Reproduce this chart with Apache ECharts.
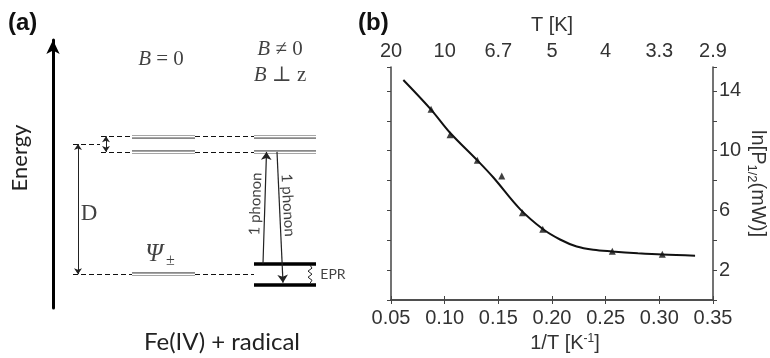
<!DOCTYPE html>
<html>
<head>
<meta charset="utf-8">
<script src="https://cdn.jsdelivr.net/npm/echarts@6/dist/echarts.min.js"></script>
<style>
  html, body { margin: 0; padding: 0; background: #fff; }
  #chart { width: 770px; height: 358px; }
</style>
</head>
<body>
<div id="chart"></div>
<script>
  // (b) measured points: 1/T [K^-1] vs ln P1/2
  const invT = [0.0873, 0.105, 0.1304, 0.1532, 0.1724, 0.1914, 0.2562, 0.3028];
  const lnP = [12.77, 11.07, 9.35, 8.30, 5.85, 4.73, 3.27, 3.06];
  // fitted curve
  const fitX = [0.0615, 0.0873, 0.105, 0.1304, 0.1454, 0.170, 0.1914, 0.2075, 0.223, 0.2386, 0.256, 0.28, 0.3028, 0.3333];
  const fitY = [14.73, 12.75, 11.2, 9.35, 8.2, 6.1, 4.75, 4.05, 3.58, 3.36, 3.25, 3.13, 3.04, 2.97];
  const yLabels = [2, 6, 10, 14];

  // (a) energy levels (units of the diagram's energy axis, D = 10)
  const D = 10;
  const upperLevels = [9.4, 10.6];
  const groundLevel = 0;
  const groundSplit = [-0.8, 0.8];

  const sans = 'Liberation Sans, Arial, sans-serif';
  const hum = 'Lato, Open Sans, sans-serif';
  const serif = 'Liberation Serif, DejaVu Serif, serif';

  // x layout of the diagram columns
  const colB0 = [79, 142];
  const colB = [201, 263];

  const seg = (x1, y1, x2, y2) => ({coords: [[x1, y1], [x2, y2]]});

  let dashSegs = [];
  upperLevels.forEach(E => {
    dashSegs.push(seg(48, E, colB0[0], E));
    dashSegs.push(seg(colB0[1], E, colB[0], E));
  });
  dashSegs.push(seg(20, groundLevel, colB0[0], groundLevel));
  dashSegs.push(seg(colB0[1], groundLevel, colB[0], groundLevel));
  dashSegs.push(seg(20, D, 47, D));

  let doubleSegs = [];
  upperLevels.concat([groundLevel]).forEach(E => doubleSegs.push(seg(colB0[0], E, colB0[1], E)));
  upperLevels.forEach(E => doubleSegs.push(seg(colB[0], E, colB[1], E)));

  const thickSegs = groundSplit.map(E => seg(colB[0], E, colB[1], E));

  const twoHeadSegs = [
    seg(25, groundLevel, 25, D),
    seg(53, upperLevels[0], 53, upperLevels[1])
  ];
  const phononSegs = [
    seg(210, groundSplit[1], 213.5, upperLevels[0]),
    seg(224, upperLevels[0], 230, -0.65)
  ];
  // small wavy EPR arrow
  let zig = [];
  for (let i = 0; i <= 6; i++) {
    zig.push([257 + (i % 2 ? 2 : -2) * (i > 0 && i < 6 ? 1 : 0), -0.7 + i * 1.4 / 6]);
  }

  const notes = [
    {value: [108, 16.5], text: '{it|B}{rm| = 0}'},
    {value: [227, 17.3], text: '{it|B}{rm| ≠ 0}'},
    {value: [227, 15.3], text: '{it|B}{rm| ⊥ z}'},
    {value: [107, 1.5], text: '{psi|Ψ}{sub|±}'},
    {value: [36, 4.6], text: '{d|D}'},
    {value: [280, 0], text: '{epr|EPR}'},
    {value: [202.5, 5.4], text: '{ph|1 phonon}', rotate: 88},
    {value: [235, 5.3], text: '{ph|1 phonon}', rotate: -87}
  ];

  const axisCol = '#444';
  const chart = echarts.init(document.getElementById('chart'));
  const option = {
    animation: false,
    backgroundColor: '#fff',
    textStyle: {fontFamily: sans, color: '#333'},
    graphic: [
      {type: 'text', left: 8, top: 11, style: {text: '(a)', font: 'bold 24px ' + sans, fill: '#111'}},
      {type: 'text', left: 358, top: 11, style: {text: '(b)', font: 'bold 24px ' + sans, fill: '#111'}},
      {type: 'text', x: 20, y: 158, rotation: Math.PI / 2,
        style: {text: 'Energy', font: '22px ' + hum, fill: '#222', align: 'center', verticalAlign: 'middle'}},
      {type: 'text', x: 222, y: 342,
        style: {text: 'Fe(IV) + radical', font: '24px ' + hum, fill: '#222', align: 'center', verticalAlign: 'middle'}}
    ],
    grid: [
      {left: 391, right: 57, top: 67, bottom: 53},
      {left: 53, top: 40, width: 307, bottom: 50}
    ],
    xAxis: [
      {
        gridIndex: 0, type: 'value', position: 'bottom',
        min: 0.05, max: 0.35, interval: 0.05,
        axisLine: {lineStyle: {color: axisCol, width: 1.5}},
        axisTick: {length: 4, lineStyle: {color: axisCol}},
        axisLabel: {fontSize: 20, color: '#333', margin: 8, showMaxLabel: true, formatter: v => v.toFixed(2)},
        splitLine: {show: false},
        name: '{a|1/T [K}{sup|-1}{a|]}', nameLocation: 'middle', nameGap: 33,
        nameTextStyle: {padding: [0, 0, 0, 26], rich: {
          a: {fontSize: 20, color: '#333', fontFamily: sans},
          sup: {fontSize: 12, color: '#333', fontFamily: sans, verticalAlign: 'top'}
        }}
      },
      {
        gridIndex: 0, type: 'value', position: 'top',
        min: 0.05, max: 0.35, interval: 0.05,
        axisLine: {lineStyle: {color: axisCol, width: 1.5}},
        axisTick: {length: 4, lineStyle: {color: axisCol}},
        axisLabel: {fontSize: 20, color: '#333', margin: 6, showMaxLabel: true,
          formatter: v => String(Number((1 / v).toFixed(1)))},
        splitLine: {show: false},
        name: 'T [K]', nameLocation: 'middle', nameGap: 32,
        nameTextStyle: {fontSize: 20, color: '#333'}
      },
      {gridIndex: 1, type: 'value', min: 0, max: 307, show: false}
    ],
    yAxis: [
      {
        gridIndex: 0, type: 'value', position: 'left',
        min: 0, max: 15.6, interval: 2,
        axisLine: {show: true, lineStyle: {color: axisCol, width: 1.5}},
        axisTick: {show: true, length: 4, lineStyle: {color: axisCol}},
        axisLabel: {show: false},
        splitLine: {show: false}
      },
      {
        gridIndex: 0, type: 'value', position: 'right',
        min: 0, max: 15.6, interval: 2,
        axisLine: {show: true, lineStyle: {color: axisCol, width: 1.5}},
        axisTick: {show: true, length: 4, lineStyle: {color: axisCol}},
        axisLabel: {fontSize: 20, color: '#333', margin: 6,
          formatter: v => (yLabels.indexOf(v) >= 0 ? String(v) : '')},
        splitLine: {show: false},
        name: '{a|ln[P}{s|1/2}{a|(mW)]}', nameLocation: 'middle', nameGap: 29, nameRotate: -90,
        nameTextStyle: {rich: {
          a: {fontSize: 20, color: '#333', fontFamily: sans, lineHeight: 24},
          s: {fontSize: 13, color: '#333', fontFamily: sans, verticalAlign: 'bottom', lineHeight: 24}
        }}
      },
      {
        gridIndex: 1, type: 'value', min: -2.6, max: 18,
        axisLine: {show: true, symbol: ['none', 'arrow'], symbolSize: [10, 14],
          lineStyle: {color: '#000', width: 3}},
        axisTick: {show: false}, axisLabel: {show: false}, splitLine: {show: false}
      }
    ],
    series: [
      {
        type: 'line', xAxisIndex: 0, yAxisIndex: 0,
        data: fitX.map((x, i) => [x, fitY[i]]),
        smooth: 0.35, showSymbol: false, symbol: 'none',
        lineStyle: {color: '#111', width: 2}
      },
      {
        type: 'scatter', xAxisIndex: 0, yAxisIndex: 0,
        data: invT.map((x, i) => [x, lnP[i]]),
        symbol: 'triangle', symbolSize: 7,
        itemStyle: {color: '#111'}
      },
      // --- (a) energy diagram ---
      {
        type: 'lines', coordinateSystem: 'cartesian2d', xAxisIndex: 2, yAxisIndex: 2,
        data: dashSegs,
        lineStyle: {color: '#111', width: 1, type: [5, 3], opacity: 1}
      },
      {
        type: 'lines', coordinateSystem: 'cartesian2d', xAxisIndex: 2, yAxisIndex: 2,
        data: doubleSegs,
        lineStyle: {color: '#888', width: 4, opacity: 1}
      },
      {
        type: 'lines', coordinateSystem: 'cartesian2d', xAxisIndex: 2, yAxisIndex: 2,
        data: doubleSegs,
        lineStyle: {color: '#fff', width: 1.3, opacity: 1}
      },
      {
        type: 'lines', coordinateSystem: 'cartesian2d', xAxisIndex: 2, yAxisIndex: 2,
        data: thickSegs,
        lineStyle: {color: '#000', width: 3.5, opacity: 1}
      },
      {
        type: 'lines', coordinateSystem: 'cartesian2d', xAxisIndex: 2, yAxisIndex: 2,
        data: twoHeadSegs, symbol: ['arrow', 'arrow'], symbolSize: 6,
        lineStyle: {color: '#222', width: 1, opacity: 1}
      },
      {
        type: 'lines', coordinateSystem: 'cartesian2d', xAxisIndex: 2, yAxisIndex: 2,
        data: phononSegs, symbol: ['none', 'arrow'], symbolSize: 8,
        lineStyle: {color: '#222', width: 1.2, opacity: 1}
      },
      {
        type: 'lines', coordinateSystem: 'cartesian2d', xAxisIndex: 2, yAxisIndex: 2,
        polyline: true, data: [{coords: zig}], symbol: ['arrow', 'arrow'], symbolSize: 4,
        lineStyle: {color: '#222', width: 1, opacity: 1}
      },
      {
        type: 'scatter', xAxisIndex: 2, yAxisIndex: 2, symbolSize: 0,
        data: notes.map(n => ({value: n.value, label: {formatter: n.text, rotate: n.rotate || 0}})),
        label: {
          show: true, position: 'inside',
          rich: {
            it: {fontFamily: serif, fontStyle: 'italic', fontSize: 21, color: '#111'},
            rm: {fontFamily: serif, fontSize: 21, color: '#111'},
            psi: {fontFamily: serif, fontStyle: 'italic', fontSize: 25, color: '#111'},
            sub: {fontFamily: serif, fontSize: 16, color: '#111', verticalAlign: 'bottom', padding: [12, 0, 0, 3]},
            d: {fontFamily: serif, fontSize: 23, color: '#111'},
            epr: {fontFamily: hum, fontSize: 14, color: '#111'},
            ph: {fontFamily: hum, fontSize: 15, color: '#111'}
          }
        }
      }
    ]
  };
  chart.setOption(option);
  window.onresize = chart.resize;
</script>
</body>
</html>
